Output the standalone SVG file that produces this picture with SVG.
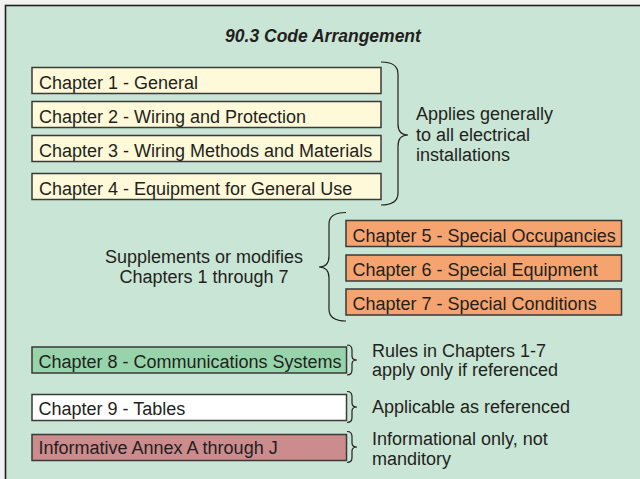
<svg xmlns="http://www.w3.org/2000/svg" width="640" height="479" viewBox="0 0 640 479">
<style>
.box{stroke:#3a3a3a;stroke-width:1.5}
.y{fill:#fef9d8}
.o{fill:#f5a46f}
.g{fill:#98d4ab}
.w{fill:#ffffff}
.p{fill:#cc8b8d}
text{font-family:"Liberation Sans",Arial,sans-serif;font-size:18px;fill:#231f20}
.brace{fill:none;stroke:#231f20;stroke-width:1.2}
</style>
<rect x="0" y="0" width="640" height="479" fill="#f2f2f2"/>
<rect x="5.5" y="5.5" width="700" height="600" fill="#c9e5d5" stroke="#231f20" stroke-width="1.6"/>
<text x="323" y="41.7" text-anchor="middle" font-weight="bold" font-style="italic" style="font-size:17.5px">90.3 Code Arrangement</text>
<g id="ch1"><rect class="box y" x="32" y="67.5" width="349" height="26"/><text x="39" y="88.8">Chapter 1 - General</text></g>
<g id="ch2"><rect class="box y" x="32" y="101.5" width="349" height="26"/><text x="39" y="122.8">Chapter 2 - Wiring and Protection</text></g>
<g id="ch3"><rect class="box y" x="32" y="135.5" width="349" height="26"/><text x="39" y="156.8">Chapter 3 - Wiring Methods and Materials</text></g>
<g id="ch4"><rect class="box y" x="32" y="173.5" width="349" height="26"/><text x="39" y="194.8">Chapter 4 - Equipment for General Use</text></g>
<g id="ch5"><rect class="box o" x="346" y="220.5" width="275.5" height="26"/><text x="352.5" y="241.5">Chapter 5 - Special Occupancies</text></g>
<g id="ch6"><rect class="box o" x="346" y="255" width="275.5" height="26"/><text x="352.5" y="276">Chapter 6 - Special Equipment</text></g>
<g id="ch7"><rect class="box o" x="346" y="289" width="275.5" height="26"/><text x="352.5" y="310">Chapter 7 - Special Conditions</text></g>
<g id="ch8"><rect class="box g" x="32" y="347" width="314.5" height="26"/><text x="38.5" y="367.7">Chapter 8 - Communications Systems</text></g>
<g id="ch9"><rect class="box w" x="32" y="394.5" width="314.5" height="26"/><text x="38.5" y="415">Chapter 9 - Tables</text></g>
<g id="annex"><rect class="box p" x="32" y="434.5" width="314.5" height="26"/><text x="38.5" y="453.5">Informative Annex A through J</text></g>
<g id="note1"><text x="416" y="120">Applies generally</text><text x="416" y="140.5">to all electrical</text><text x="416" y="161">installations</text></g>
<g id="note2"><text x="204" y="262.7" text-anchor="middle">Supplements or modifies</text><text x="204" y="283.3" text-anchor="middle">Chapters 1 through 7</text></g>
<g id="note3"><text x="372" y="356.5">Rules in Chapters 1-7</text><text x="372" y="376">apply only if referenced</text></g>
<g id="note4"><text x="372" y="413.3">Applicable as referenced</text></g>
<g id="note5"><text x="372" y="445">Informational only, not</text><text x="372" y="465">manditory</text></g>
<g id="connectors">
<path class="brace" d="M381,62 Q398,62 398,74 L398,124 Q398,135 408,135 Q398,135 398,146 L398,193 Q398,205 381,205"/>
<path class="brace" d="M346,212.5 Q329,212.5 329,224 L329,256 Q329,267 319,267 Q329,267 329,278 L329,309 Q329,321 346,321"/>
<path class="brace" d="M347,345 Q352,345 352,350 L352,356 Q352,360 357,360 Q352,360 352,364 L352,370 Q352,375 347,375"/>
<path class="brace" d="M347,391.5 Q352,391.5 352,396.5 L352,403 Q352,407 357,407 Q352,407 352,411 L352,417.5 Q352,422.5 347,422.5"/>
<path class="brace" d="M347,431.5 Q352,431.5 352,436.5 L352,443 Q352,447 357,447 Q352,447 352,451 L352,457.5 Q352,462.5 347,462.5"/>
</g>
</svg>
